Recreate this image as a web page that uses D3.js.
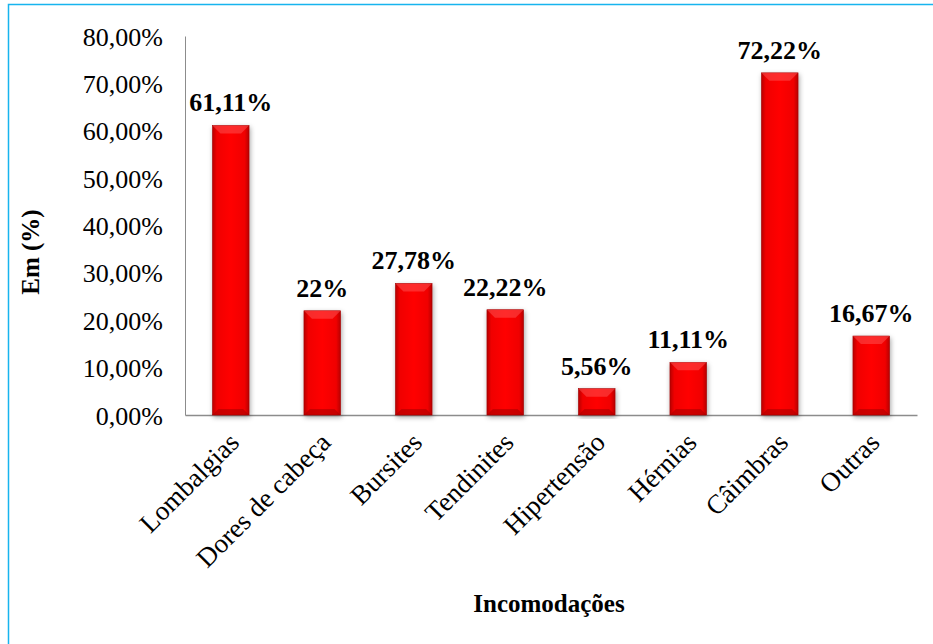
<!DOCTYPE html>
<html>
<head>
<meta charset="utf-8">
<script src="https://cdn.jsdelivr.net/npm/d3@7"></script>
<style>
  body { margin: 0; background: #fff; }
</style>
</head>
<body>
<script>
(function() {

    const width = 933;
    const height = 644;
    const serif = "'Liberation Serif', 'Times New Roman', serif";

    // chart data
    const categories = ["Lombalgias", "Dores de cabeça", "Bursites", "Tendinites", "Hipertensão", "Hérnias", "Câimbras", "Outras"];
    const values = [61.11, 22, 27.78, 22.22, 5.56, 11.11, 72.22, 16.67];
    const valueLabels = ["61,11%", "22%", "27,78%", "22,22%", "5,56%", "11,11%", "72,22%", "16,67%"];
    const yTicks = [0, 10, 20, 30, 40, 50, 60, 70, 80];

    const margin = {left: 185, right: 16, top: 36, bottom: 229};

    let svg = d3.select("body").append("svg")
        .attr("width", width)
        .attr("height", height)
        .style("font-family", serif);

    let defs = svg.append("defs");

    // bar side shading
    let grad = defs.append("linearGradient")
        .attr("id", "barGrad")
        .attr("x1", "0").attr("x2", "1").attr("y1", "0").attr("y2", "0");
    grad.append("stop").attr("offset", "0").attr("stop-color", "#b80000");
    grad.append("stop").attr("offset", "0.12").attr("stop-color", "#f00000");
    grad.append("stop").attr("offset", "0.5").attr("stop-color", "#ff0000");
    grad.append("stop").attr("offset", "0.88").attr("stop-color", "#f00000");
    grad.append("stop").attr("offset", "1").attr("stop-color", "#b80000");

    let shadow = defs.append("filter")
        .attr("id", "shadow")
        .attr("x", "-30%").attr("y", "-10%").attr("width", "160%").attr("height", "125%");
    shadow.append("feDropShadow")
        .attr("dx", 1).attr("dy", 2).attr("stdDeviation", 2.5)
        .attr("flood-color", "#000").attr("flood-opacity", 0.35);

    // outer frame (right/bottom sides fall outside the picture)
    svg.append("rect")
        .attr("x", 8.5).attr("y", 4.5)
        .attr("width", 940).attr("height", 660)
        .style("fill", "none")
        .style("stroke", "#17b4ee")
        .style("stroke-width", 1.5);

    let x = d3.scaleBand()
        .domain(categories)
        .range([margin.left, width - margin.right])
        .paddingInner(0.6)
        .paddingOuter(0.3);

    let y = d3.scaleLinear()
        .domain([0, 80])
        .range([height - margin.bottom, margin.top]);

    // y axis
    let yAxis = svg.append("g")
        .attr("transform", "translate(" + margin.left + ",0)")
        .call(d3.axisLeft(y).tickValues(yTicks).tickSize(0).tickPadding(22)
            .tickFormat(d => d3.format(".2f")(d).replace(".", ",") + "%"));
    yAxis.attr("font-family", null).attr("font-size", null);
    yAxis.select(".domain").style("stroke", "#8c8c8c").style("stroke-width", 1);
    yAxis.selectAll("text")
        .style("font-size", "26px")
        .style("font-family", serif)
        .style("fill", "#000")
        .attr("dy", "0.35em");

    // x axis
    let xAxis = svg.append("g")
        .attr("transform", "translate(0," + y(0) + ")")
        .call(d3.axisBottom(x).tickSize(0).tickPadding(0));
    xAxis.attr("font-family", null).attr("font-size", null);
    xAxis.select(".domain").style("stroke", "#8c8c8c").style("stroke-width", 1.5);
    xAxis.selectAll("text")
        .style("font-size", "27px")
        .style("font-family", serif)
        .style("fill", "#000")
        .style("text-anchor", "end")
        .attr("y", 0)
        .attr("dy", 0)
        .attr("transform", "translate(10,29) rotate(-45)");

    // bars
    let bars = svg.append("g").selectAll("g")
        .data(categories)
        .enter()
        .append("g");

    bars.append("rect")
        .attr("x", d => x(d))
        .attr("y", (d, i) => y(values[i]))
        .attr("width", x.bandwidth())
        .attr("height", (d, i) => y(0) - y(values[i]))
        .style("fill", "url(#barGrad)")
        .style("stroke", "#a00000")
        .style("stroke-width", 0.6)
        .attr("filter", "url(#shadow)");

    // top bevel
    bars.append("path")
        .attr("d", function(d, i) {
            let x0 = x(d), w = x.bandwidth(), t = y(values[i]), b = Math.min(8, (y(0) - t) / 3);
            return "M" + x0 + "," + t + "L" + (x0 + w) + "," + t +
                "L" + (x0 + w - b) + "," + (t + b) + "L" + (x0 + b) + "," + (t + b) + "Z";
        })
        .style("fill", "#ff6060")
        .style("opacity", 0.45);

    // bottom bevel
    bars.append("path")
        .attr("d", function(d, i) {
            let x0 = x(d), w = x.bandwidth(), t = y(values[i]), bt = y(0), b = Math.min(6, (bt - t) / 4);
            return "M" + x0 + "," + bt + "L" + (x0 + w) + "," + bt +
                "L" + (x0 + w - b) + "," + (bt - b) + "L" + (x0 + b) + "," + (bt - b) + "Z";
        })
        .style("fill", "#a00000")
        .style("opacity", 0.5);

    // value labels
    svg.append("g").selectAll("text")
        .data(categories)
        .enter()
        .append("text")
        .attr("x", d => x(d) + x.bandwidth() / 2)
        .attr("y", (d, i) => y(values[i]) - 14)
        .attr("text-anchor", "middle")
        .style("font-family", serif)
        .style("font-size", "26px")
        .style("font-weight", "bold")
        .text((d, i) => valueLabels[i]);

    // axis titles
    svg.append("text")
        .attr("transform", "translate(39,252) rotate(-90)")
        .attr("text-anchor", "middle")
        .style("font-family", serif)
        .style("font-size", "25px")
        .style("font-weight", "bold")
        .text("Em (%)");

    svg.append("text")
        .attr("x", 549)
        .attr("y", 612)
        .attr("text-anchor", "middle")
        .style("font-family", serif)
        .style("font-size", "25px")
        .style("font-weight", "bold")
        .text("Incomodações");

})();
</script>
</body>
</html>
